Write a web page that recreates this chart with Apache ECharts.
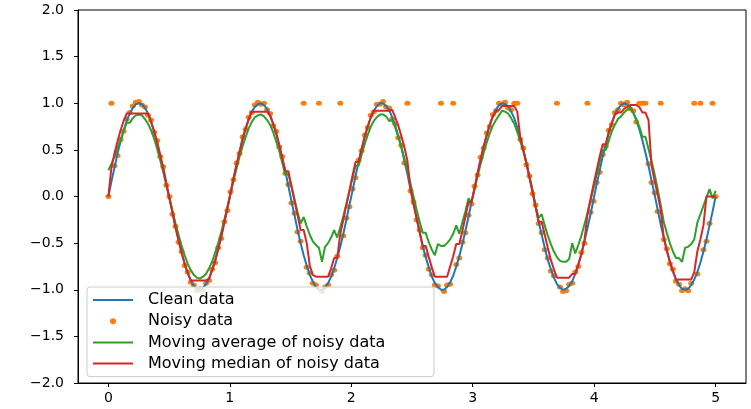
<!DOCTYPE html>
<html><head><meta charset="utf-8">
<script src="https://cdn.jsdelivr.net/npm/echarts@6/dist/echarts.min.js"></script>
<style>html,body{margin:0;padding:0;background:#fff}#c{width:751px;height:409px}</style>
</head><body><div id="c"></div>
<script>
// sample grid: 200 samples from 0 to 5
const N = 200;
const xs = Array.from({length: N}, (_, i) => 5 * i / (N - 1));

const cleanData = [
 0.00,0.16,0.31,0.46,0.59,0.71,0.81,0.89,0.95,0.99,1.00,0.99,0.95,0.89,0.80,0.70,0.58,0.44,0.30,0.14,-0.02,-0.17,-0.33,-0.47,-0.60,-0.72,-0.82,-0.90,-0.96,-0.99,-1.00,-0.98,-0.94,-0.88,-0.79,-0.69,-0.56,-0.43,-0.28,-0.13,
 0.03,0.19,0.34,0.48,0.62,0.73,0.83,0.91,0.96,0.99,1.00,0.98,0.94,0.87,0.78,0.68,0.55,0.41,0.27,0.11,-0.05,-0.20,-0.36,-0.50,-0.63,-0.74,-0.84,-0.91,-0.97,-1.00,-1.00,-0.98,-0.93,-0.86,-0.77,-0.66,-0.54,-0.40,-0.25,-0.09,
 0.06,0.22,0.37,0.51,0.64,0.75,0.85,0.92,0.97,1.00,1.00,0.97,0.93,0.85,0.76,0.65,0.53,0.38,0.24,0.08,-0.08,-0.23,-0.38,-0.53,-0.65,-0.76,-0.86,-0.93,-0.97,-1.00,-1.00,-0.97,-0.92,-0.85,-0.75,-0.64,-0.51,-0.37,-0.22,-0.06,
 0.09,0.25,0.40,0.54,0.66,0.77,0.86,0.93,0.98,1.00,0.99,0.97,0.91,0.84,0.74,0.63,0.50,0.36,0.20,0.05,-0.11,-0.27,-0.41,-0.55,-0.68,-0.78,-0.87,-0.94,-0.98,-1.00,-0.99,-0.96,-0.91,-0.83,-0.73,-0.62,-0.48,-0.34,-0.19,-0.03,
 0.13,0.28,0.43,0.56,0.69,0.79,0.88,0.94,0.98,1.00,0.99,0.96,0.90,0.82,0.72,0.60,0.47,0.33,0.17,0.02,-0.14,-0.30,-0.44,-0.58,-0.70,-0.80,-0.89,-0.95,-0.99,-1.00,-0.99,-0.95,-0.89,-0.81,-0.71,-0.59,-0.46,-0.31,-0.16,0.00
];

const noisyData = [
 0.00,1.00,0.33,0.44,0.61,0.70,0.83,0.90,0.97,1.01,1.02,0.98,0.96,0.87,0.82,0.69,0.60,0.43,0.32,0.12,0.00,-0.19,-0.32,-0.49,-0.59,-0.74,-0.81,-0.92,-0.95,-1.01,-0.99,-1.00,-0.93,-0.90,-0.78,-0.71,-0.55,-0.45,-0.27,-0.15,
 0.05,0.18,0.36,0.46,0.64,0.72,0.85,0.90,0.98,1.01,0.99,1.00,0.93,0.89,0.76,0.70,0.53,0.43,0.25,0.13,-0.07,-0.18,-0.38,-0.48,1.00,-0.76,-0.82,-0.93,-0.95,1.00,-1.02,-0.97,-0.95,-0.84,-0.79,-0.64,1.00,-0.42,-0.23,-0.11,
 0.08,0.20,0.39,0.49,0.66,0.74,0.87,0.91,0.99,0.99,1.02,0.96,0.95,0.83,0.78,0.63,0.55,0.36,1.00,0.06,-0.06,-0.25,-0.36,-0.55,-0.63,-0.78,-0.84,-0.95,-0.96,1.00,-1.02,-0.95,-0.94,1.00,-0.73,-0.66,-0.49,-0.39,-0.20,-0.08,
 0.11,0.23,0.42,0.52,0.68,0.75,0.88,0.92,1.00,0.99,1.01,0.95,0.93,1.00,1.00,0.61,0.52,0.34,0.22,0.03,-0.09,-0.29,-0.39,-0.57,-0.66,-0.80,-0.85,1.00,-0.97,-1.02,-1.01,-0.94,-0.93,-0.81,-0.75,-0.60,-0.50,1.00,-0.17,-0.05,
 0.15,0.26,0.45,0.54,0.71,0.77,0.90,0.93,1.00,0.98,1.01,0.94,0.92,0.80,1.00,1.00,1.00,0.35,0.15,0.04,-0.16,1.00,-0.46,-0.56,-0.72,-0.78,-0.91,-0.94,-1.01,-0.99,-1.01,-0.93,1.00,-0.83,1.00,-0.57,-0.48,-0.29,1.00,0.00
];

const movingAverage = [
 0.28,0.35,0.43,0.52,0.61,0.70,0.79,0.79,0.84,0.87,0.88,0.87,0.83,0.78,0.71,0.62,0.51,0.39,0.26,0.12,-0.01,-0.15,-0.29,-0.41,-0.53,-0.63,-0.72,-0.79,-0.84,-0.87,-0.88,-0.86,-0.83,-0.77,-0.70,-0.60,-0.50,-0.38,-0.25,-0.11,
 0.03,0.17,0.30,0.43,0.54,0.64,0.73,0.80,0.85,0.87,0.88,0.86,0.82,0.77,0.69,0.59,0.49,0.36,0.23,0.24,0.11,-0.03,-0.17,-0.29,-0.22,-0.32,-0.41,-0.48,-0.52,-0.55,-0.70,-0.54,-0.50,-0.44,-0.36,-0.44,-0.33,-0.21,-0.08,0.06,
 0.20,0.33,0.33,0.45,0.56,0.66,0.75,0.81,0.85,0.88,0.88,0.86,0.81,0.82,0.74,0.64,0.53,0.41,0.28,0.14,0.00,-0.14,-0.27,-0.39,-0.39,-0.49,-0.57,-0.63,-0.51,-0.53,-0.53,-0.50,-0.46,-0.40,-0.31,-0.40,-0.28,-0.16,-0.02,-0.06,
 0.08,0.22,0.35,0.47,0.58,0.68,0.76,0.82,0.87,0.92,0.91,0.89,0.84,0.78,0.69,0.59,0.48,0.35,0.22,0.07,-0.10,-0.23,-0.19,-0.31,-0.42,-0.51,-0.59,-0.65,-0.69,-0.70,-0.70,-0.67,-0.50,-0.61,-0.52,-0.42,-0.30,-0.18,-0.04,0.09,
 0.23,0.37,0.50,0.50,0.60,0.70,0.77,0.83,0.86,0.90,0.93,0.95,0.90,0.83,0.75,0.64,0.64,0.51,0.38,0.24,0.08,-0.09,-0.27,-0.39,-0.50,-0.59,-0.66,-0.66,-0.70,-0.55,-0.54,-0.51,-0.46,-0.28,-0.19,-0.10,-0.01,0.08,-0.02,0.06
];

const movingMedian = [
 0.00,0.31,0.46,0.59,0.71,0.81,0.89,0.89,0.89,0.89,0.89,0.89,0.89,0.89,0.80,0.70,0.58,0.44,0.30,0.14,-0.02,-0.17,-0.33,-0.47,-0.60,-0.72,-0.82,-0.90,-0.90,-0.90,-0.90,-0.90,-0.90,-0.88,-0.79,-0.69,-0.56,-0.43,-0.28,-0.13,
 0.03,0.19,0.34,0.48,0.62,0.73,0.83,0.91,0.91,0.91,0.91,0.91,0.91,0.87,0.78,0.68,0.55,0.41,0.27,0.27,0.11,-0.05,-0.20,-0.36,-0.36,-0.50,-0.74,-0.84,-0.86,-0.86,-0.86,-0.86,-0.86,-0.77,-0.66,-0.66,-0.40,-0.25,-0.09,0.06,
 0.22,0.37,0.37,0.51,0.64,0.75,0.85,0.92,0.92,0.92,0.92,0.92,0.92,0.93,0.85,0.76,0.65,0.53,0.38,0.08,-0.08,-0.23,-0.38,-0.53,-0.53,-0.65,-0.76,-0.86,-0.86,-0.86,-0.86,-0.86,-0.75,-0.64,-0.51,-0.51,-0.37,-0.22,-0.06,-0.06,
 0.09,0.25,0.40,0.54,0.66,0.77,0.86,0.91,0.93,0.97,0.97,0.97,0.97,0.97,0.91,0.63,0.50,0.36,0.20,0.05,-0.11,-0.27,-0.27,-0.41,-0.55,-0.68,-0.78,-0.87,-0.87,-0.87,-0.87,-0.87,-0.83,-0.83,-0.73,-0.62,-0.48,-0.19,-0.03,0.13,
 0.28,0.43,0.56,0.56,0.69,0.79,0.88,0.90,0.90,0.94,0.96,0.98,0.98,0.98,0.96,0.90,0.90,0.82,0.33,0.17,0.02,-0.14,-0.44,-0.58,-0.70,-0.80,-0.89,-0.89,-0.89,-0.89,-0.89,-0.89,-0.81,-0.59,-0.46,-0.31,0.00,0.00,0.00,0.00
];

const seriesNames = ['Clean data', 'Noisy data', 'Moving average of noisy data', 'Moving median of noisy data'];
const seriesColors = ['#1f77b4', '#ff7f0e', '#2ca02c', '#d62728'];
const xTickValues = [0, 1, 2, 3, 4, 5];

const pairs = arr => xs.map((x, i) => [x, arr[i]]);
const font = 'DejaVu Sans';
const lineIcon = 'path://M0,0H40V2H0Z';

const chart = echarts.init(document.getElementById('c'));
chart.setOption({
  animation: false,
  backgroundColor: '#fff',
  grid: { left: 78, right: 5, top: 10, bottom: 26, show: true, borderColor: '#000', borderWidth: 1, backgroundColor: 'transparent' },
  xAxis: {
    type: 'value', min: -0.25, max: 5.25,
    axisLine: { show: true, onZero: false, lineStyle: { color: '#000', width: 1 } },
    axisTick: { show: true, length: 4, customValues: xTickValues, lineStyle: { color: '#000' } },
    axisLabel: { customValues: xTickValues, margin: 8, color: '#000', fontFamily: font, fontSize: 14 },
    splitLine: { show: false }
  },
  yAxis: {
    type: 'value', min: -2, max: 2, interval: 0.5,
    axisLine: { show: true, onZero: false, lineStyle: { color: '#000', width: 1 } },
    axisTick: { show: true, length: 4, lineStyle: { color: '#000' } },
    axisLabel: { margin: 14, color: '#000', fontFamily: font, fontSize: 14,
      formatter: v => v.toFixed(1).replace('-', '\u2212') },
    splitLine: { show: false }
  },
  legend: {
    orient: 'vertical', left: 87, top: 287,
    padding: [5, 6, 5, 6],
    itemWidth: 40, itemHeight: 6, itemGap: 5.2,
    selectedMode: false,
    backgroundColor: 'rgba(255,255,255,0.8)', borderColor: '#cccccc', borderWidth: 1, borderRadius: 3,
    textStyle: { fontFamily: font, fontSize: 16, color: '#000', lineHeight: 16, width: 280, padding: [0, 0, 0, 10] },
    data: [
      { name: seriesNames[0], icon: lineIcon, itemStyle: { color: seriesColors[0] } },
      { name: seriesNames[1], icon: 'circle', itemStyle: { color: seriesColors[1] } },
      { name: seriesNames[2], icon: lineIcon, itemStyle: { color: seriesColors[2] } },
      { name: seriesNames[3], icon: lineIcon, itemStyle: { color: seriesColors[3] } }
    ]
  },
  series: [
    { name: seriesNames[0], type: 'line', data: pairs(cleanData), symbol: 'none', lineStyle: { color: seriesColors[0], width: 2 }, itemStyle: { color: seriesColors[0] } },
    { name: seriesNames[1], type: 'scatter', data: pairs(noisyData), symbol: 'circle', symbolSize: [6, 5], itemStyle: { color: seriesColors[1], opacity: 1 } },
    { name: seriesNames[2], type: 'line', data: pairs(movingAverage), symbol: 'none', lineStyle: { color: seriesColors[2], width: 2 }, itemStyle: { color: seriesColors[2] } },
    { name: seriesNames[3], type: 'line', data: pairs(movingMedian), symbol: 'none', lineStyle: { color: seriesColors[3], width: 2 }, itemStyle: { color: seriesColors[3] } }
  ]
});
</script></body></html>
